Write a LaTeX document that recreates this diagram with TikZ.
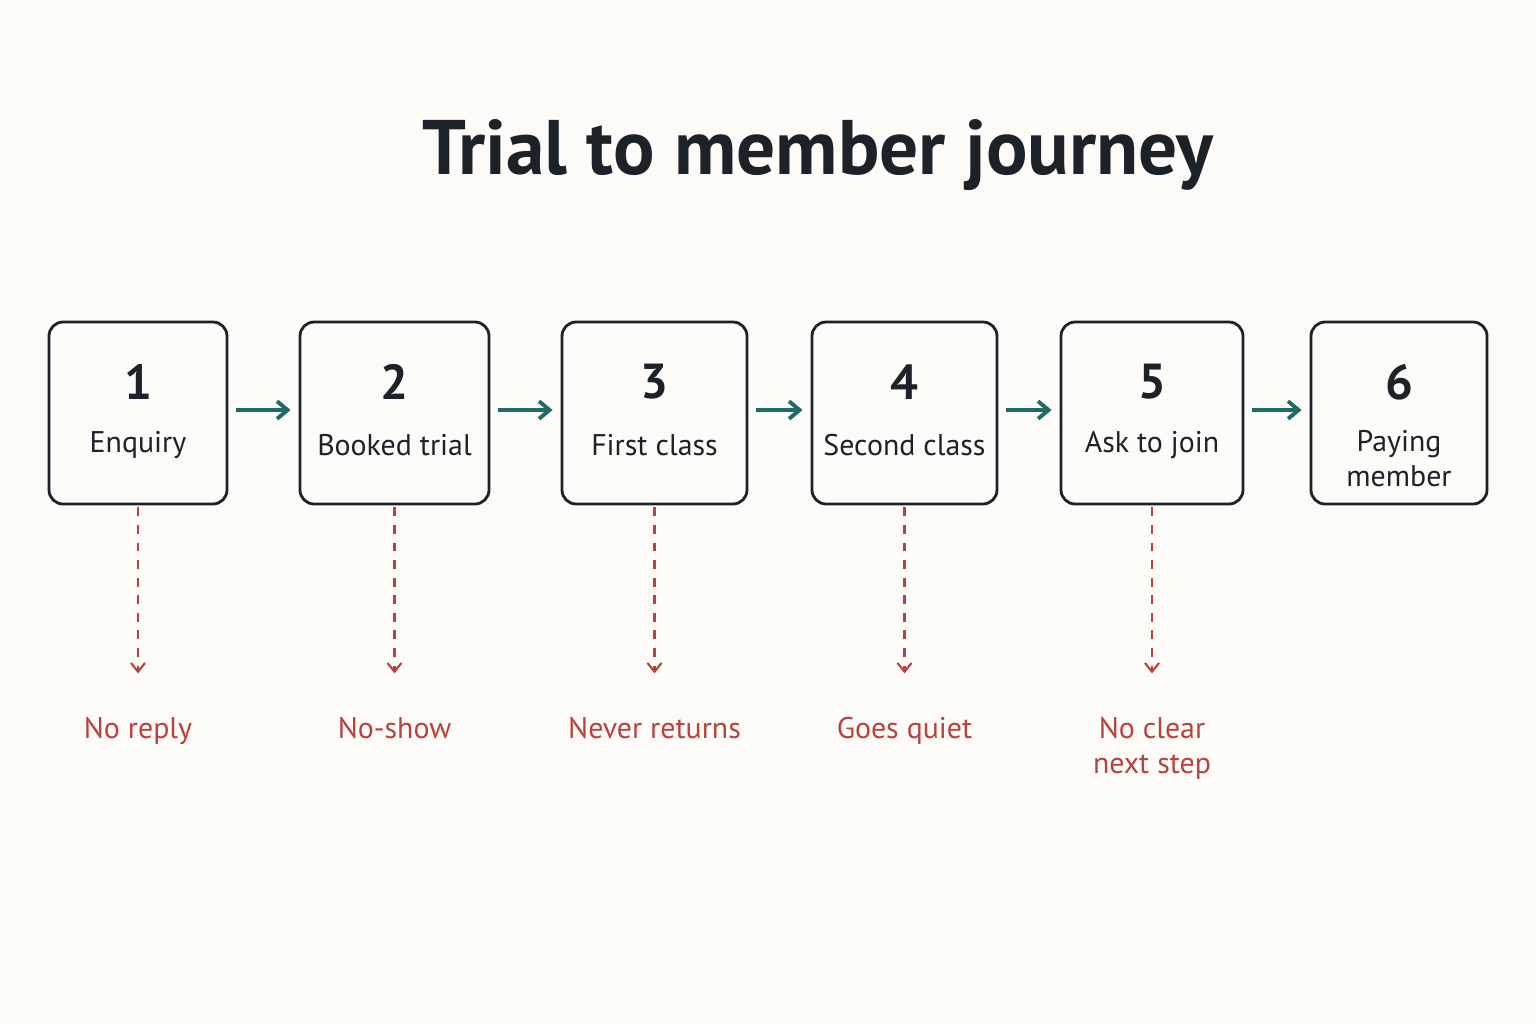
\documentclass[tikz,border=0pt]{standalone}
\usepackage{fontspec}
\setmainfont{PT Sans}
\usetikzlibrary{positioning,arrows.meta}
\definecolor{bgc}{HTML}{FCFBF8}
\definecolor{ink}{HTML}{1C2228}
\definecolor{tealc}{HTML}{1F6B66}
\definecolor{redc}{HTML}{B8433E}
\tikzset{
  stage/.style={draw=ink, line width=1.6pt, rounded corners=8pt, minimum height=3.64cm},
  num/.style={text=ink, font=\fontsize{28}{30}\bfseries\selectfont},
  lbl/.style={text=ink, font=\fontsize{17}{20}\selectfont, align=center},
  flow/.style={draw=tealc, line width=2.2pt, -{Straight Barb[length=6pt,width=10pt]}},
  drop/.style={draw=redc, line width=1.2pt, dash pattern=on 5pt off 5pt, -{Straight Barb[length=5pt,width=8pt]}},
  loss/.style={text=redc, font=\fontsize{17}{20}\selectfont, align=center, anchor=north}
}
\begin{document}
\begin{tikzpicture}
  \fill[bgc] (0,0) rectangle (30.72,-20.48);
  \useasboundingbox (0,0) rectangle (30.72,-20.48);
  \node[text=ink, font=\fontsize{44}{48}\bfseries\selectfont] (title) at (16.36,-3.1) {Trial to member journey};
  % stages
  \node[stage, minimum width=3.56cm] (s1) at (2.76,-8.26) {};
  \node[stage, minimum width=3.78cm] (s2) at (7.89,-8.26) {};
  \node[stage, minimum width=3.70cm] (s3) at (13.09,-8.26) {};
  \node[stage, minimum width=3.70cm] (s4) at (18.09,-8.26) {};
  \node[stage, minimum width=3.64cm] (s5) at (23.04,-8.26) {};
  \node[stage, minimum width=3.52cm] (s6) at (27.98,-8.26) {};
  \foreach \i/\t in {1/Enquiry,2/Booked trial,3/First class,4/Second class,5/Ask to join}{
    \node[num] (n\i) at ([yshift=0.62cm]s\i.center) {\i};
    \node[lbl] (l\i) at ([yshift=-0.64cm]s\i.center) {\t};
  }
  \node[num] (n6) at ([yshift=0.62cm]s6.center) {6};
  \node[lbl, text width=3cm] (l6) at ([yshift=-0.92cm]s6.center) {Paying\\member};
  % forward flow
  \foreach \a/\b in {1/2,2/3,3/4,4/5,5/6}{
    \draw[flow] ([xshift=0.16cm,yshift=0.06cm]s\a.east) -- ([xshift=-0.16cm,yshift=0.06cm]s\b.west);
  }
  % drop-offs
  \foreach \i/\t in {1/No reply,2/No-show,3/Never returns,4/Goes quiet,5/No clear\\next step}{
    \coordinate (d\i) at ([yshift=-3.36cm]s\i.south);
    \draw[drop] ([yshift=-0.04cm]s\i.south) -- (d\i);
    \node[loss] (o\i) at ([yshift=-0.75cm]d\i) {\t};
  }
\end{tikzpicture}
\end{document}
